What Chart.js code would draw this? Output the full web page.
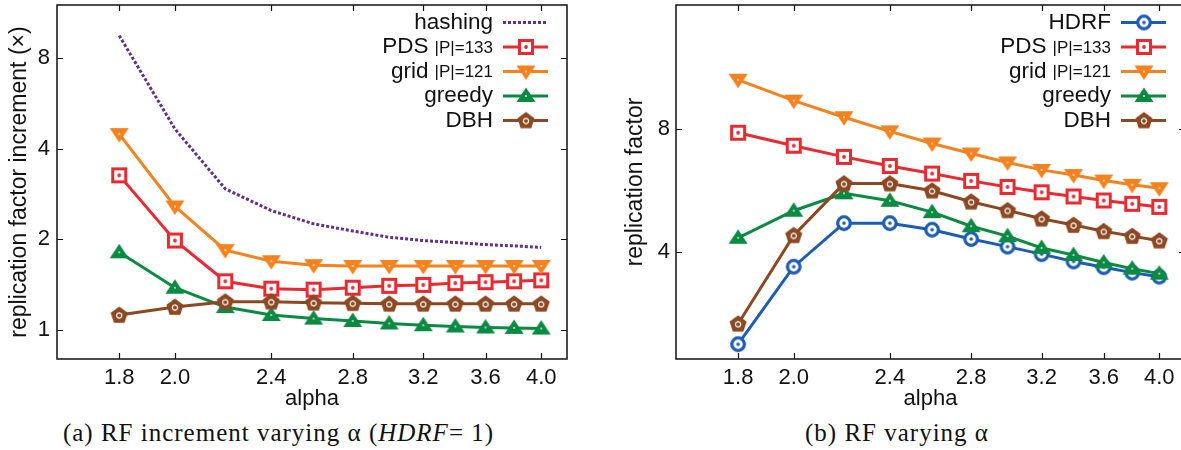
<!DOCTYPE html>
<html lang="en">
<head>
  <meta charset="UTF-8">
  <title>Replication factor varying alpha</title>
  <script src="https://cdn.jsdelivr.net/npm/chart.js"></script>
  <style>
    html, body { margin: 0; padding: 0; background: #fff; overflow: hidden; }
    body { width: 1181px; height: 450px; position: relative; }
    .plot { position: absolute; top: 0; }
    #wrapA { left: 0; width: 590px; height: 412px; }
    #wrapB { left: 590px; width: 600px; height: 412px; }
    .caption {
      position: absolute; top: 419px;
      font-family: "Liberation Serif", "DejaVu Serif", serif;
      font-size: 25px; letter-spacing: 1px; color: #111; white-space: nowrap;
      text-align: center;
    }
    #capA { left: 0; width: 557px; }
    #capB { left: 590px; width: 614px; }
  </style>
</head>
<body>

<div class="plot" id="wrapA"><canvas id="chartA" width="590" height="412"></canvas></div>
<div class="plot" id="wrapB"><canvas id="chartB" width="600" height="412"></canvas></div>
<div class="caption" id="capA">(a) RF increment varying &alpha; (<i>HDRF</i>= 1)</div>
<div class="caption" id="capB">(b) RF varying &alpha;</div>

<script>
// x values and tick labels
const alphas = [1.8, 2.0, 2.2, 2.4, 2.6, 2.8, 3.0, 3.2, 3.4, 3.6, 3.8, 4.0];
const xTicks = [1.8, 2.0, 2.4, 2.8, 3.2, 3.6, 4.0];
const yTicksA = [1, 2, 4, 8];
const yTicksB = [4, 8];

// (a) RF increment relative to HDRF
const hashingA = [9.5, 4.65, 2.94, 2.49, 2.25, 2.13, 2.03, 1.98, 1.95, 1.92, 1.90, 1.88];
const pdsA     = [3.26, 1.98, 1.45, 1.37, 1.36, 1.38, 1.40, 1.41, 1.43, 1.44, 1.45, 1.46];
const gridA    = [4.47, 2.57, 1.84, 1.69, 1.64, 1.63, 1.63, 1.63, 1.63, 1.63, 1.63, 1.63];
const greedyA  = [1.81, 1.38, 1.19, 1.12, 1.09, 1.07, 1.05, 1.036, 1.026, 1.018, 1.015, 1.01];
const dbhA     = [1.12, 1.19, 1.24, 1.24, 1.23, 1.226, 1.22, 1.22, 1.22, 1.22, 1.22, 1.22];

// (b) replication factor
const hdrfB   = [2.39, 3.69, 4.71, 4.71, 4.54, 4.31, 4.13, 3.96, 3.80, 3.68, 3.57, 3.49];
const pdsB    = [7.82, 7.27, 6.83, 6.49, 6.22, 5.97, 5.77, 5.60, 5.47, 5.35, 5.25, 5.16];
const gridB   = [10.52, 9.36, 8.53, 7.88, 7.36, 6.96, 6.62, 6.35, 6.17, 5.98, 5.84, 5.73];
const greedyB = [4.34, 5.05, 5.57, 5.34, 5.01, 4.63, 4.38, 4.10, 3.94, 3.78, 3.65, 3.55];
const dbhB    = [2.68, 4.40, 5.88, 5.88, 5.65, 5.31, 5.06, 4.83, 4.66, 4.50, 4.38, 4.27];

const FONT = '"Liberation Sans", Arial, sans-serif';
const colors = {
  hdrf: '#1c5cb3', pds: '#ea2a30', grid: '#f4821f',
  greedy: '#0b8a42', dbh: '#8c4822', hashing: '#652d90'
};

// small canvases used as point styles (gnuplot-like markers)
function marker(kind, color) {
  const c = document.createElement('canvas');
  c.width = 24; c.height = 24;
  const g = c.getContext('2d');
  g.translate(12, 12);
  g.fillStyle = color; g.strokeStyle = color;
  if (kind === 'circle') {
    g.beginPath(); g.arc(0, 0, 6.3, 0, Math.PI * 2);
    g.fillStyle = '#fff'; g.fill();
    g.lineWidth = 3.2; g.stroke();
    g.beginPath(); g.arc(0, 0, 1.8, 0, Math.PI * 2);
    g.fillStyle = color; g.fill();
  } else if (kind === 'square') {
    g.fillStyle = '#fff'; g.fillRect(-6.5, -6.5, 13, 13);
    g.lineWidth = 3; g.strokeRect(-6.5, -6.5, 13, 13);
    g.beginPath(); g.arc(0, 0, 1.9, 0, Math.PI * 2);
    g.fillStyle = color; g.fill();
  } else if (kind === 'tridown' || kind === 'triup') {
    const s = kind === 'triup' ? -1 : 1;
    g.beginPath();
    g.moveTo(-9.5, -6 * s); g.lineTo(9.5, -6 * s); g.lineTo(0, 8.5 * s); g.closePath();
    g.fill();
    g.beginPath(); g.arc(0, 0, 1, 0, Math.PI * 2);
    g.fillStyle = 'rgba(255,255,255,0.8)'; g.fill();
  } else if (kind === 'pentagon') {
    g.beginPath();
    for (let k = 0; k < 5; k++) {
      const a = -Math.PI / 2 + k * 2 * Math.PI / 5;
      g.lineTo(9 * Math.cos(a), 9 * Math.sin(a) + 0.5);
    }
    g.closePath(); g.fill();
    g.beginPath(); g.arc(0, 0.5, 2.6, 0, Math.PI * 2);
    g.strokeStyle = '#fff'; g.lineWidth = 1.2; g.stroke();
  }
  return c;
}

function series(label, sub, values, color, kind, dash) {
  return {
    label: label,
    sub: sub,
    data: alphas.map((a, i) => ({ x: a, y: values[i] })),
    borderColor: color,
    backgroundColor: color,
    borderWidth: 3,
    borderDash: dash || [],
    pointStyle: kind ? marker(kind, color) : false,
    pointRadius: kind ? 8 : 0,
    pointHoverRadius: kind ? 8 : 0,
    tension: 0
  };
}

// frame, inward ticks and gnuplot style key
const gnuplotLook = {
  id: 'gnuplotLook',
  afterDraw(chart) {
    const ctx = chart.ctx;
    const a = chart.chartArea;
    const xs = chart.scales.x, ys = chart.scales.y;
    ctx.save();
    ctx.strokeStyle = '#111';
    ctx.lineWidth = 1.5;
    ctx.strokeRect(a.left, a.top, a.right - a.left, a.bottom - a.top);
    ctx.beginPath();
    xs.ticks.forEach(t => {
      const px = Math.round(xs.getPixelForValue(t.value)) + 0.5;
      ctx.moveTo(px, a.bottom); ctx.lineTo(px, a.bottom - 6);
      ctx.moveTo(px, a.top); ctx.lineTo(px, a.top + 6);
    });
    ys.ticks.forEach(t => {
      const py = Math.round(ys.getPixelForValue(t.value)) + 0.5;
      ctx.moveTo(a.left, py); ctx.lineTo(a.left + 6, py);
      ctx.moveTo(a.right, py); ctx.lineTo(a.right - 6, py);
    });
    ctx.lineWidth = 1.2;
    ctx.stroke();

    // key
    const textRight = a.right - 74;
    chart.data.datasets.forEach((ds, i) => {
      const y = a.top + 17.5 + i * 24.5;
      ctx.textBaseline = 'middle';
      ctx.textAlign = 'right';
      ctx.fillStyle = '#111';
      let x = textRight;
      if (ds.sub) {
        ctx.font = '17px ' + FONT;
        ctx.fillText(ds.sub, x, y + 1);
        x -= ctx.measureText(ds.sub).width + 6;
      }
      ctx.font = '22.5px ' + FONT;
      ctx.fillText(ds.label, x, y);
      ctx.beginPath();
      ctx.setLineDash(ds.borderDash);
      ctx.strokeStyle = ds.borderColor;
      ctx.lineWidth = 3;
      ctx.moveTo(a.right - 64, y); ctx.lineTo(a.right - 19, y);
      ctx.stroke();
      ctx.setLineDash([]);
      if (ds.pointStyle) {
        ctx.drawImage(ds.pointStyle, a.right - 41 - 12, y - 12);
      }
    });
    ctx.restore();
  }
};

function makeChart(id, datasets, yMin, yMax, yTicks, yTitle, yAxisWidth, titlePad, yLabelPad, padRight) {
  datasets.forEach((d, i) => { d.order = datasets.length - i; });
  return new Chart(document.getElementById(id), {
    type: 'line',
    data: { datasets: datasets },
    options: {
      responsive: false,
      animation: false,
      events: [],
      layout: { autoPadding: false, padding: { left: 0, top: 5, right: padRight, bottom: 0 } },
      plugins: { legend: { display: false }, tooltip: { enabled: false } },
      scales: {
        x: {
          type: 'logarithmic',
          min: 1.6, max: 4.2,
          afterBuildTicks: s => { s.ticks = xTicks.map(v => ({ value: v })); },
          afterFit: s => { s.height = 53; s.paddingLeft = 0; s.paddingRight = 0; },
          grid: { display: false, drawTicks: false },
          border: { display: false },
          ticks: {
            autoSkip: false, maxRotation: 0, padding: 6,
            color: '#111', font: { family: FONT, size: 22 },
            callback: v => Number(v).toFixed(1)
          },
          title: {
            display: true, text: 'alpha', color: '#111',
            font: { family: FONT, size: 22 }, padding: { top: 0, bottom: 0 }
          }
        },
        y: {
          type: 'logarithmic',
          min: yMin, max: yMax,
          afterBuildTicks: s => { s.ticks = yTicks.map(v => ({ value: v })); },
          afterFit: s => { s.width = yAxisWidth; s.paddingTop = 0; s.paddingBottom = 0; },
          grid: { display: false, drawTicks: false },
          border: { display: false },
          ticks: {
            padding: yLabelPad, color: '#111',
            font: { family: FONT, size: 22 },
            callback: v => String(v)
          },
          title: {
            display: true, text: yTitle, color: '#111',
            font: { family: FONT, size: 23 }, padding: { top: titlePad, bottom: 0 }
          }
        }
      }
    },
    plugins: [gnuplotLook]
  });
}

makeChart('chartA', [
  series('hashing', '', hashingA, colors.hashing, null, [3, 2]),
  series('PDS', '|P|=133', pdsA, colors.pds, 'square'),
  series('grid', '|P|=121', gridA, colors.grid, 'tridown'),
  series('greedy', '', greedyA, colors.greedy, 'triup'),
  series('DBH', '', dbhA, colors.dbh, 'pentagon')
], 0.8, 12, yTicksA, 'replication factor increment (\u00d7)', 57, 6, 7, 23);

makeChart('chartB', [
  series('HDRF', '', hdrfB, colors.hdrf, 'circle'),
  series('PDS', '|P|=133', pdsB, colors.pds, 'square'),
  series('grid', '|P|=121', gridB, colors.grid, 'tridown'),
  series('greedy', '', greedyB, colors.greedy, 'triup'),
  series('DBH', '', dbhB, colors.dbh, 'pentagon')
], 2.2, 16, yTicksB, 'replication factor', 86, 32, 6, 5);
</script>

</body>
</html>
